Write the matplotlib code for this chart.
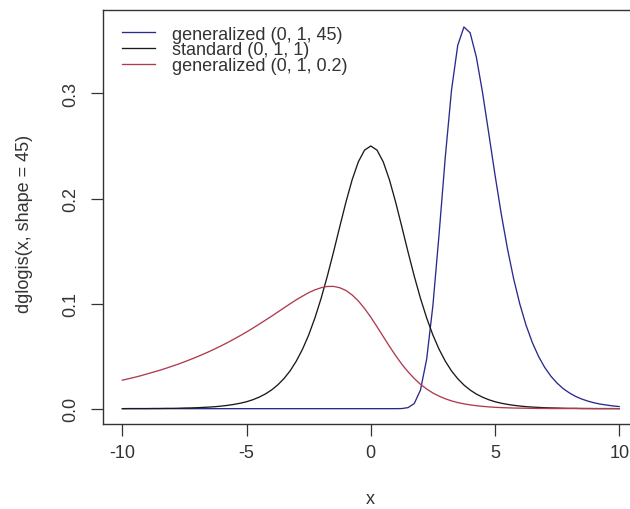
#!/usr/bin/env python3
import sys
import matplotlib
matplotlib.use("Agg")
import matplotlib.pyplot as plt

# Puntos x donde se leyeron las curvas (paso 0.25 entre -10 y 10)
X = [-10.0, -9.75, -9.5, -9.25, -9.0, -8.75, -8.5, -8.25, -8.0, -7.75,
     -7.5, -7.25, -7.0, -6.75, -6.5, -6.25, -6.0, -5.75, -5.5, -5.25,
     -5.0, -4.75, -4.5, -4.25, -4.0, -3.75, -3.5, -3.25, -3.0, -2.75,
     -2.5, -2.25, -2.0, -1.75, -1.5, -1.25, -1.0, -0.75, -0.5, -0.25,
     0.0, 0.25, 0.5, 0.75, 1.0, 1.25, 1.5, 1.75, 2.0, 2.25,
     2.5, 2.75, 3.0, 3.25, 3.5, 3.75, 4.0, 4.25, 4.5, 4.75,
     5.0, 5.25, 5.5, 5.75, 6.0, 6.25, 6.5, 6.75, 7.0, 7.25,
     7.5, 7.75, 8.0, 8.25, 8.5, 8.75, 9.0, 9.25, 9.5, 9.75, 10.0]

# generalized (0, 1, 45)
GEN_45 = [0.0] * 45 + [
    0.0001, 0.0010, 0.0049, 0.0177, 0.0472, 0.0981, 0.1663, 0.2397, 0.3032,
    0.3458, 0.3633, 0.3577, 0.3346, 0.3007, 0.2619, 0.2226, 0.1856, 0.1525,
    0.1237, 0.0995, 0.0795, 0.0631, 0.0499, 0.0393, 0.0309, 0.0243, 0.0190,
    0.0149, 0.0116, 0.0091, 0.0071, 0.0055, 0.0043, 0.0034, 0.0026, 0.0020]

# standard (0, 1, 1)
STANDARD = [
    0.0000, 0.0001, 0.0001, 0.0001, 0.0001, 0.0002, 0.0002, 0.0003, 0.0003, 0.0004,
    0.0006, 0.0007, 0.0009, 0.0012, 0.0015, 0.0019, 0.0025, 0.0032, 0.0041, 0.0052,
    0.0066, 0.0085, 0.0109, 0.0139, 0.0177, 0.0225, 0.0285, 0.0359, 0.0452, 0.0565,
    0.0701, 0.0863, 0.1050, 0.1261, 0.1491, 0.1731, 0.1966, 0.2179, 0.2350, 0.2461,
    0.2500, 0.2461, 0.2350, 0.2179, 0.1966, 0.1731, 0.1491, 0.1261, 0.1050, 0.0863,
    0.0701, 0.0565, 0.0452, 0.0359, 0.0285, 0.0225, 0.0177, 0.0139, 0.0109, 0.0085,
    0.0066, 0.0052, 0.0041, 0.0032, 0.0025, 0.0019, 0.0015, 0.0012, 0.0009, 0.0007,
    0.0006, 0.0004, 0.0003, 0.0003, 0.0002, 0.0002, 0.0001, 0.0001, 0.0001, 0.0001,
    0.0000]

# generalized (0, 1, 0.2)
GEN_02 = [
    0.0271, 0.0285, 0.0299, 0.0314, 0.0331, 0.0348, 0.0365, 0.0384, 0.0404, 0.0424,
    0.0446, 0.0469, 0.0493, 0.0518, 0.0544, 0.0572, 0.0601, 0.0631, 0.0663, 0.0696,
    0.0730, 0.0766, 0.0803, 0.0841, 0.0879, 0.0919, 0.0958, 0.0998, 0.1036, 0.1071,
    0.1104, 0.1131, 0.1151, 0.1163, 0.1164, 0.1151, 0.1125, 0.1082, 0.1025, 0.0953,
    0.0871, 0.0780, 0.0687, 0.0594, 0.0505, 0.0423, 0.0351, 0.0287, 0.0232, 0.0187,
    0.0149, 0.0119, 0.0094, 0.0074, 0.0058, 0.0046, 0.0036, 0.0028, 0.0022, 0.0017,
    0.0013, 0.0010, 0.0008, 0.0006, 0.0005, 0.0004, 0.0003, 0.0002, 0.0002, 0.0001,
    0.0001, 0.0001, 0.0001, 0.0001, 0.0000, 0.0000, 0.0000, 0.0000, 0.0000, 0.0000,
    0.0000]

LABELS = ["generalized (0, 1, 45)", "standard (0, 1, 1)", "generalized (0, 1, 0.2)"]
COLORS = ["#2a2a8c", "#1a1a1a", "#b03a4e"]
X_TICKS = [-10, -5, 0, 5, 10]
Y_TICKS = [0.0, 0.1, 0.2, 0.3]


def main():
    plt.rcParams['font.family'] = ['Liberation Sans', 'DejaVu Sans']
    plt.rcParams['axes.unicode_minus'] = False

    fig = plt.figure(figsize=(6.3, 5.1), dpi=100)
    # el marco de R se sale un poco por la derecha (imagen recortada)
    ax = fig.add_axes([0.1627, 0.1667, 0.8517, 0.8108])

    for ys, lab, col in zip([GEN_45, STANDARD, GEN_02], LABELS, COLORS):
        ax.plot(X, ys, color=col, linewidth=0.95, label=lab,
                solid_joinstyle='round')

    # limites estilo R (4% extra)
    ax.set_xlim(-10.8, 10.8)
    ax.set_ylim(-0.01458, 0.3790)

    ax.set_xticks(X_TICKS)
    ax.set_xticklabels([str(t) for t in X_TICKS])
    ax.set_yticks(Y_TICKS)
    ax.set_yticklabels([f"{t:.1f}" for t in Y_TICKS], rotation=90, va='center')
    ax.tick_params(length=8.5, width=0.9, color='#333333',
                   labelsize=13, labelcolor='#333333')
    ax.tick_params(axis='x', pad=6)
    ax.tick_params(axis='y', pad=8)

    for sp in ax.spines.values():
        sp.set_color('#333333')
        sp.set_linewidth(1.0)

    fig.text(370 / 630, 1 - 500 / 510, 'x', ha='center', va='center',
             fontsize=13, color='#333333')
    fig.text(25 / 630, 1 - 224 / 510, 'dglogis(x, shape = 45)', rotation=90,
             ha='center', va='center', fontsize=13, color='#333333')

    ax.legend(loc='upper left', bbox_to_anchor=(0.0363, 0.963), frameon=False,
              fontsize=13, handlelength=1.85, handletextpad=0.9,
              labelspacing=-0.08, borderaxespad=0, borderpad=0,
              labelcolor='#333333')

    fig.savefig('out.png', dpi=100)
    plt.close(fig)
    return 0


if __name__ == "__main__":
    sys.exit(main())
